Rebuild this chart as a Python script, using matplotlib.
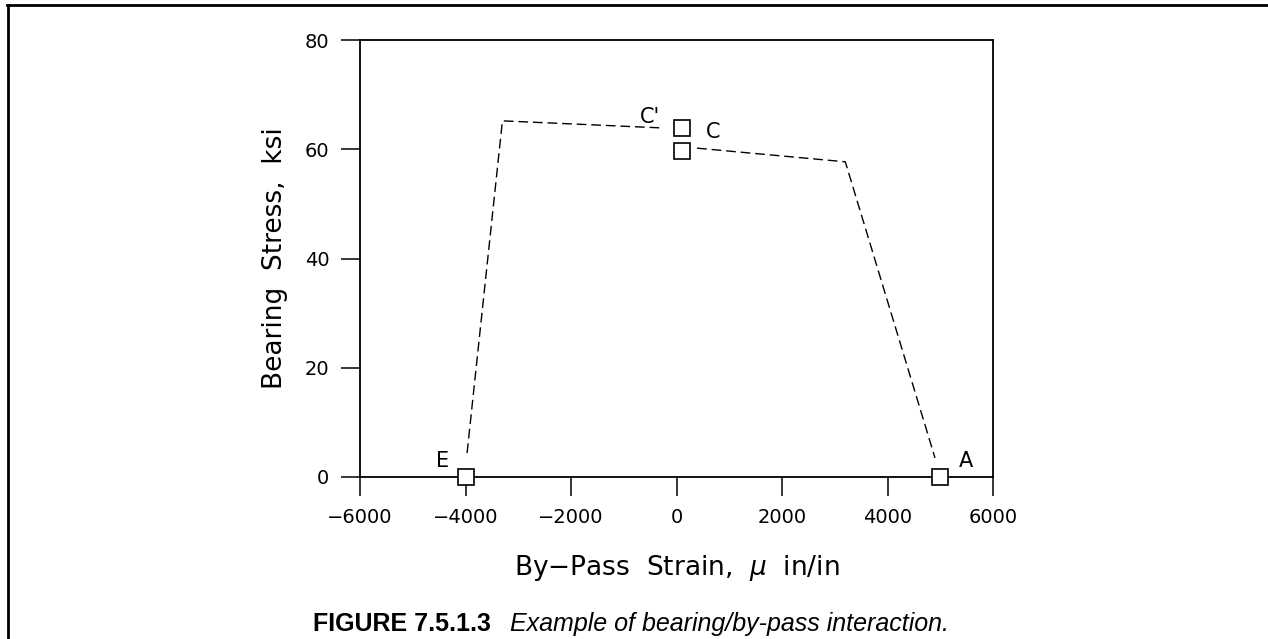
import matplotlib
matplotlib.use("Agg")
import matplotlib.pyplot as plt
from matplotlib.lines import Line2D

# Data
left_x = [-3970, -3300, -270]
left_y = [4.4, 65.2, 63.9]
right_x = [390, 3200, 4900]
right_y = [60.2, 57.7, 3.5]
pt_x = [-4000, 5000, 100, 100]
pt_y = [0, 0, 59.7, 63.9]
pt_labels = ["E", "A", "C", "C'"]
xticks = [-6000, -4000, -2000, 0, 2000, 4000, 6000]
yticks = [0, 20, 40, 60, 80]

W, H = 1268, 639
fig = plt.figure(figsize=(W / 100, H / 100), dpi=100)
ax = fig.add_axes([360 / W, 1 - 477 / H, (993 - 360) / W, (477 - 40) / H])

dash = (0, (7, 3.5))
ax.plot(left_x, left_y, ls=dash, color="black", lw=1.0)
ax.plot(right_x, right_y, ls=dash, color="black", lw=1.0)
ax.plot(pt_x, pt_y, ls="none", marker="s", ms=11, mfc="white", mec="black",
        mew=1.2, clip_on=False, zorder=5)

offsets = {"E": (-16.5, 11.8), "A": (18.4, 11.8), "C": (22.3, 13.7), "C'": (-23, 8)}
for x, y, lab in zip(pt_x, pt_y, pt_labels):
    dx, dy = offsets[lab]
    ax.annotate(lab, (x, y), xytext=(dx, dy), textcoords="offset points",
                ha="center", va="center", fontsize=15)

ax.set_xlim(-6000, 6000)
ax.set_ylim(0, 80)
ax.set_xticks(xticks)
ax.set_yticks(yticks)
ax.set_xticklabels([f"{t}".replace("-", "\u2212") for t in xticks])
ax.tick_params(direction="out", length=14, width=1.1, labelsize=14, pad=8)
for s in ax.spines.values():
    s.set_linewidth(1.3)

ax.set_xlabel(r"By$-$Pass  Strain,  $\mu$  in/in", fontsize=19, labelpad=19)
ax.set_ylabel("Bearing  Stress,  ksi", fontsize=19, labelpad=12)

# Caption
cap_y = 1 - 631 / H
fig.text(491 / W, cap_y, "FIGURE 7.5.1.3", ha="right", va="baseline",
         fontsize=18, fontweight="bold", family=["Liberation Sans", "DejaVu Sans"])
fig.text(510 / W, cap_y, "Example of bearing/by-pass interaction.", ha="left",
         va="baseline", fontsize=18, style="italic",
         family=["Liberation Sans", "DejaVu Sans"])

# Frame (left and top)
fig.add_artist(Line2D([8 / W, 8 / W], [0, 1 - 4.5 / H], transform=fig.transFigure,
                      color="black", lw=2))
fig.add_artist(Line2D([7.3 / W, 1], [1 - 4.5 / H, 1 - 4.5 / H], transform=fig.transFigure,
                      color="black", lw=2))

fig.savefig("out.png", dpi=100)
